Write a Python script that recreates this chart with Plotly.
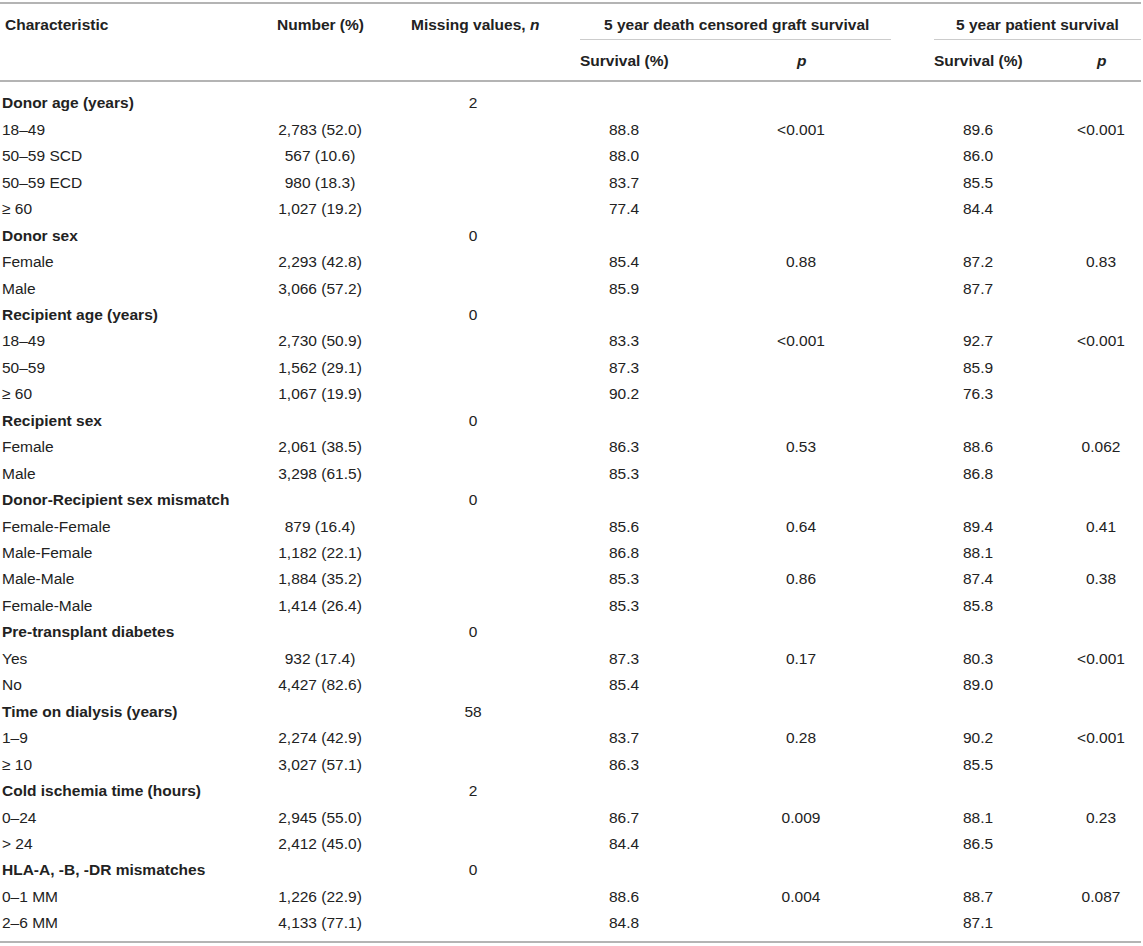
import plotly.graph_objects as go

# table content
labels = [
    "Donor age (years)", "18–49", "50–59 SCD", "50–59 ECD", "≥ 60",
    "Donor sex", "Female", "Male",
    "Recipient age (years)", "18–49", "50–59", "≥ 60",
    "Recipient sex", "Female", "Male",
    "Donor-Recipient sex mismatch", "Female-Female", "Male-Female", "Male-Male", "Female-Male",
    "Pre-transplant diabetes", "Yes", "No",
    "Time on dialysis (years)", "1–9", "≥ 10",
    "Cold ischemia time (hours)", "0–24", "> 24",
    "HLA-A, -B, -DR mismatches", "0–1 MM", "2–6 MM",
]
group_rows = [0, 5, 8, 12, 15, 20, 23, 26, 29]

number = [
    "", "2,783 (52.0)", "567 (10.6)", "980 (18.3)", "1,027 (19.2)",
    "", "2,293 (42.8)", "3,066 (57.2)",
    "", "2,730 (50.9)", "1,562 (29.1)", "1,067 (19.9)",
    "", "2,061 (38.5)", "3,298 (61.5)",
    "", "879 (16.4)", "1,182 (22.1)", "1,884 (35.2)", "1,414 (26.4)",
    "", "932 (17.4)", "4,427 (82.6)",
    "", "2,274 (42.9)", "3,027 (57.1)",
    "", "2,945 (55.0)", "2,412 (45.0)",
    "", "1,226 (22.9)", "4,133 (77.1)",
]
missing = [
    "2", "", "", "", "",
    "0", "", "",
    "0", "", "", "",
    "0", "", "",
    "0", "", "", "", "",
    "0", "", "",
    "58", "", "",
    "2", "", "",
    "0", "", "",
]
graft_surv = [
    "", "88.8", "88.0", "83.7", "77.4",
    "", "85.4", "85.9",
    "", "83.3", "87.3", "90.2",
    "", "86.3", "85.3",
    "", "85.6", "86.8", "85.3", "85.3",
    "", "87.3", "85.4",
    "", "83.7", "86.3",
    "", "86.7", "84.4",
    "", "88.6", "84.8",
]
graft_p = [
    "", "<0.001", "", "", "",
    "", "0.88", "",
    "", "<0.001", "", "",
    "", "0.53", "",
    "", "0.64", "", "0.86", "",
    "", "0.17", "",
    "", "0.28", "",
    "", "0.009", "",
    "", "0.004", "",
]
patient_surv = [
    "", "89.6", "86.0", "85.5", "84.4",
    "", "87.2", "87.7",
    "", "92.7", "85.9", "76.3",
    "", "88.6", "86.8",
    "", "89.4", "88.1", "87.4", "85.8",
    "", "80.3", "89.0",
    "", "90.2", "85.5",
    "", "88.1", "86.5",
    "", "88.7", "87.1",
]
patient_p = [
    "", "<0.001", "", "", "",
    "", "0.83", "",
    "", "<0.001", "", "",
    "", "0.062", "",
    "", "0.41", "", "0.38", "",
    "", "<0.001", "",
    "", "<0.001", "",
    "", "0.23", "",
    "", "0.087", "",
]

group_headers = ["5 year death censored graft survival", "5 year patient survival"]
sub_headers = ["Survival (%)", "<i>p</i>", "Survival (%)", "<i>p</i>"]

FONT = "Liberation Sans, Arial, Helvetica, sans-serif"
TEXT = "#222222"
RULE = "#b4b4b4"
SIZE = 15.5
W, H = 1143, 946

# layout: x in pixels, y in row units (row 0 at ~104.5px, 26.45px per row)
ROW0, STEP = 104.5, 26.45
def row_of(px):
    return (px - ROW0) / STEP

col_x = {"num": 320, "miss": 473, "gs": 624, "gp": 801, "ps": 978, "pp": 1101}
rows = list(range(len(labels)))

fig = go.Figure()

first_col = [f"<b>{l}</b>" if i in group_rows else l for i, l in enumerate(labels)]
fig.add_trace(go.Scatter(
    x=[2] * len(rows), y=rows, mode="text", text=first_col,
    textposition="middle right",
    textfont=dict(family=FONT, size=SIZE, color=TEXT),
    hoverinfo="skip",
))

for key, vals in [("num", number), ("miss", missing), ("gs", graft_surv),
                  ("gp", graft_p), ("ps", patient_surv), ("pp", patient_p)]:
    fig.add_trace(go.Scatter(
        x=[col_x[key]] * len(rows), y=rows, mode="text", text=vals,
        textposition="middle center",
        textfont=dict(family=FONT, size=SIZE, color=TEXT),
        hoverinfo="skip",
    ))

# header annotations
hdr_font = dict(family=FONT, size=SIZE, color=TEXT)
y_top = row_of(24)
y_sub = row_of(60)
fig.add_annotation(x=3, y=y_top, text="<b>Characteristic</b>", xanchor="left", showarrow=False, font=hdr_font)
fig.add_annotation(x=col_x["num"], y=y_top, text="<b>Number (%)</b>", showarrow=False, font=hdr_font)
fig.add_annotation(x=475, y=y_top, text="<b>Missing values, <i>n</i></b>", showarrow=False, font=hdr_font)
fig.add_annotation(x=736, y=y_top, text=f"<b>{group_headers[0]}</b>", showarrow=False, font=hdr_font)
fig.add_annotation(x=1037, y=y_top, text=f"<b>{group_headers[1]}</b>", showarrow=False, font=hdr_font)
for key, t in zip(["gs", "gp", "ps", "pp"], sub_headers):
    fig.add_annotation(x=col_x[key], y=y_sub, text=f"<b>{t}</b>", showarrow=False, font=hdr_font)

# rules
for px in (3, 81, 942):
    fig.add_shape(type="line", x0=0, x1=1141, y0=row_of(px), y1=row_of(px),
                  line=dict(color=RULE, width=2))
for x0, x1 in ((580, 891), (934, 1141)):
    fig.add_shape(type="line", x0=x0, x1=x1, y0=row_of(39.5), y1=row_of(39.5),
                  line=dict(color="#cccccc", width=1))

fig.update_xaxes(visible=False, range=[0, W], fixedrange=True)
fig.update_yaxes(visible=False, range=[row_of(H), row_of(0)], fixedrange=True)
fig.update_layout(
    width=W, height=H,
    margin=dict(l=0, r=0, t=0, b=0),
    paper_bgcolor="white", plot_bgcolor="white",
    showlegend=False,
)

fig.write_html("out.html", config={"displayModeBar": False},
               post_script="document.body.style.margin='0';")
